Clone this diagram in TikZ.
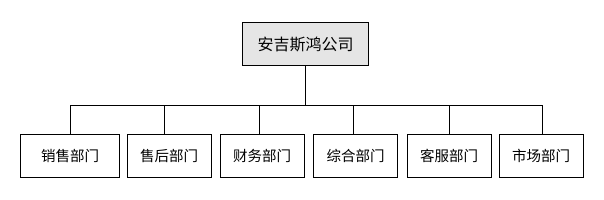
\documentclass[tikz,border=0pt]{standalone}
\usepackage{fontspec}
\newfontfamily\cjk{Noto Sans CJK SC}
\begin{document}
\begin{tikzpicture}[x=1pt,y=-1pt,
  line width=0.9pt,
  orgbox/.style={draw=black, inner sep=0pt, font=\cjk\fontsize{14.5}{16}\selectfont},
  topbox/.style={orgbox, fill=black!10, font=\cjk\fontsize{16}{18}\selectfont},
  link/.style={draw=black, line width=0.9pt}]
\useasboundingbox (0,0) rectangle (604,200);
\fill[white] (0,0) rectangle (604,200);
\node[topbox, minimum width=125.5pt, minimum height=43pt] (top) at (305.5,44.3) {安吉斯鸿公司};
\node[orgbox, minimum width=98.5pt, minimum height=43.4pt] (b1) at (70,156) {销售部门};
\node[orgbox, minimum width=83.7pt, minimum height=43.4pt] (b2) at (169.2,156) {售后部门};
\node[orgbox, minimum width=84.3pt, minimum height=43.4pt] (b3) at (262.2,156) {财务部门};
\node[orgbox, minimum width=84.3pt, minimum height=43.4pt] (b4) at (355.5,156) {综合部门};
\node[orgbox, minimum width=84pt, minimum height=43.4pt] (b5) at (449,156) {客服部门};
\node[orgbox, minimum width=84.3pt, minimum height=43.4pt] (b6) at (541.2,156) {市场部门};
\coordinate (busL) at (70.5,105.5);
\coordinate (busR) at (542.7,105.5);
\draw[link] (busL) -- (busR);
\draw[link] (top.south) -- (top.south |- busL);
\draw[link] (b1.north) -- (b1.north |- busL);
\draw[link] ([xshift=-4.8pt]b2.north) -- ([xshift=-4.8pt]b2.north |- busL);
\draw[link] ([xshift=-2.7pt]b3.north) -- ([xshift=-2.7pt]b3.north |- busL);
\draw[link] ([xshift=-2.3pt]b4.north) -- ([xshift=-2.3pt]b4.north |- busL);
\draw[link] (b5.north) -- (b5.north |- busL);
\draw[link] ([xshift=1.5pt]b6.north) -- ([xshift=1.5pt]b6.north |- busL);
\end{tikzpicture}
\end{document}
